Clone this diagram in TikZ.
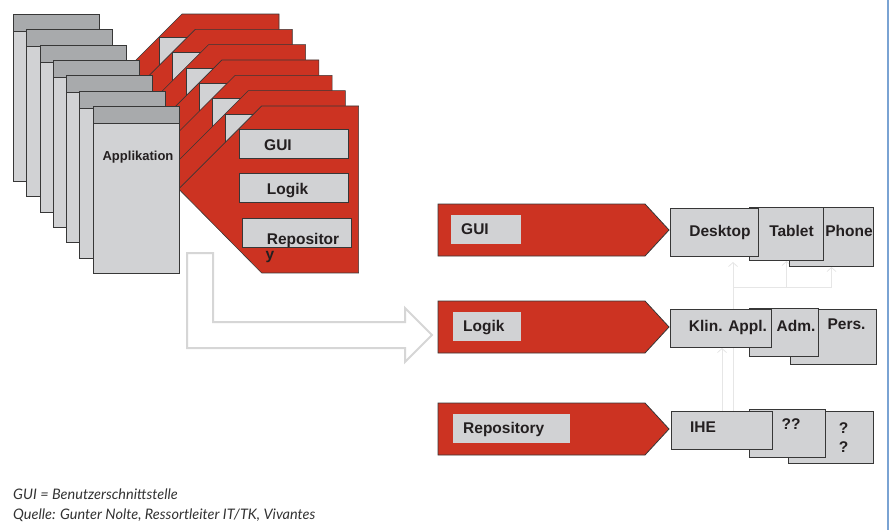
\documentclass[tikz,border=0pt]{standalone}
\usepackage{fontspec}
\setmainfont{Liberation Sans}
\newfontfamily\notefont{Lato}
\usetikzlibrary{arrows.meta,backgrounds}

\definecolor{vred}{RGB}{204,51,34}
\definecolor{boxgray}{RGB}{209,210,212}
\definecolor{headgray}{RGB}{168,170,172}
\definecolor{edgegray}{RGB}{55,55,55}
\definecolor{textdark}{RGB}{35,31,32}
\definecolor{hollowgray}{RGB}{214,214,214}
\definecolor{linkgray}{RGB}{230,230,230}
\definecolor{rimblue}{RGB}{122,163,211}
\definecolor{notegray}{RGB}{50,50,50}

\newcommand{\tierfont}{\bfseries\fontsize{15.5}{18}\selectfont}

\begin{document}
\begin{tikzpicture}[x=1pt,y=-1pt,
    slab/.style={draw=edgegray, fill=vred, line width=0.6pt},
    part/.style={draw=edgegray, fill=boxgray, line width=0.9pt,
        rectangle, inner sep=0pt, anchor=north west,
        minimum width=109pt, minimum height=29pt},
    sheet/.style={draw=edgegray, fill=boxgray, line width=1pt,
        rectangle, inner sep=0pt, anchor=north west,
        minimum width=86pt, minimum height=167pt},
    sheethead/.style={sheet, fill=headgray, minimum height=17pt},
    tier/.style={draw=edgegray, fill=vred, line width=0.8pt},
    tag/.style={fill=boxgray, rectangle, anchor=west,
        inner xsep=10pt, inner ysep=0pt, minimum height=29pt,
        align=left, text height=11pt, text depth=0pt,
        text=textdark, font=\tierfont},
    device/.style={draw=edgegray, fill=boxgray, line width=1pt,
        rectangle, inner sep=0pt, anchor=north west},
    word/.style={text=textdark, inner sep=0pt, anchor=base,
        font=\tierfont},
    link/.style={draw=linkgray, line width=0.8pt,
        -{Straight Barb[length=4pt,width=9pt]}},
    hollow/.style={draw=hollowgray, fill=white, line width=2pt},
    note/.style={text=notegray, inner sep=0pt, anchor=base west,
        font=\notefont\itshape\fontsize{14.5}{17}\selectfont}
  ]
  \useasboundingbox (0,0) rectangle (890,530);

  % stack of applications, back to front
  \foreach \k in {0,...,6} {
    \pgfmathsetmacro{\lx}{13+13.28*\k}
    \pgfmathsetmacro{\ty}{14+15.33*\k}
    \draw[slab] (\lx+86,\ty+83) -- (\lx+169,\ty) -- (\lx+266,\ty)
      -- (\lx+266,\ty+167) -- (\lx+169,\ty+167) -- cycle;
    \node[part] (gui\k) at (\lx+146,\ty+23) {};
    \node[part] (logik\k) at (\lx+146,\ty+67) {};
    \node[part] (repo\k) at (\lx+149,\ty+112) {};
    \node[sheet] (sheet\k) at (\lx,\ty) {};
    \node[sheethead] (head\k) at (\lx,\ty) {};
  }

  \node[word, font=\bfseries\fontsize{13}{15}\selectfont] (app) at (138,160) {Applikation};
  \node[word] (guitxt) at (278,150) {GUI};
  \node[word] (logiktxt) at (287.5,194.3) {Logik};
  \node[word] (repotxt) at (303,244.3) {Repositor};
  \node[word] (repotail) at (270,259.8) {y};

  % hollow arrow over to the tiers
  \draw[hollow] (187,253) -- (213,253) -- (213,322) -- (405,322)
    -- (405,308) -- (432,335) -- (405,362) -- (405,348) -- (187,348) -- cycle;

  % tiers
  \foreach \ty/\lft/\tw/\txt [count=\i] in {204/451/50/GUI,
      301/453/48/Logik, 403/453/97/Repository} {
    \draw[tier] (438,\ty) -- (645,\ty) -- (669,\ty+26) -- (645,\ty+52)
      -- (438,\ty+52) -- cycle;
    \node[tag, text width=\tw pt] (tag\i) at (\lft,\ty+25) {\txt};
  }

  % clients
  \node[device, minimum width=84pt, minimum height=59pt] (phone) at (789,207) {};
  \node[device, minimum width=74pt, minimum height=53pt] (tablet) at (749,207) {};
  \node[device, minimum width=88pt, minimum height=48pt] (desktop) at (670,208) {};
  \node[word] (phonetxt) at (849,236.7) {Phone};
  \node[word] (tablettxt) at (791.5,236.7) {Tablet};
  \node[word] (desktoptxt) at (720,236.7) {Desktop};

  % applications
  \node[device, minimum width=86pt, minimum height=55pt] (pers) at (790,309) {};
  \node[device, minimum width=69pt, minimum height=48pt] (adm) at (749,308) {};
  \node[device, minimum width=101pt, minimum height=38pt] (klin) at (670,309) {};
  \node[word] (perstxt) at (846.5,329.3) {Pers.};
  \node[word] (admtxt) at (796,331.7) {Adm.};
  \node[word] (klintxt) at (728,331.7) {Klin. Appl.};

  % repositories
  \node[device, minimum width=85pt, minimum height=52pt] (quest) at (788,411) {};
  \node[device, minimum width=76pt, minimum height=48pt] (dquest) at (749,409) {};
  \node[device, minimum width=101pt, minimum height=38pt] (ihe) at (671,411) {};
  \node[word] (questa) at (843.5,433.3) {?};
  \node[word] (questb) at (843.5,452.3) {?};
  \node[word] (dquesttxt) at (791,429.3) {??};
  \node[word] (ihetxt) at (703,432.7) {IHE};

  % links behind the boxes
  \begin{scope}[on background layer]
    \coordinate (fork) at (733,287);
    \draw[link] (ihe.north) -- (ihe.north |- klin.south);
    \draw[link, -] (ihe.north -| fork) -- (fork) -- (fork -| phone.south);
    \draw[link, shorten >=5pt] (fork) -- (fork |- desktop.south);
    \draw[link] (fork -| tablet.south) -- (tablet.south);
    \draw[link] (fork -| phone.south) -- (phone.south);
  \end{scope}

  \draw[rimblue, line width=2pt] (888,0) -- (888,530);

  \node[note] (note1) at (13,499) {GUI = Benutzerschnittstelle};
  \node[note] (note2) at (13,519) {Quelle: Gunter Nolte, Ressortleiter IT/TK, Vivantes};
\end{tikzpicture}
\end{document}
